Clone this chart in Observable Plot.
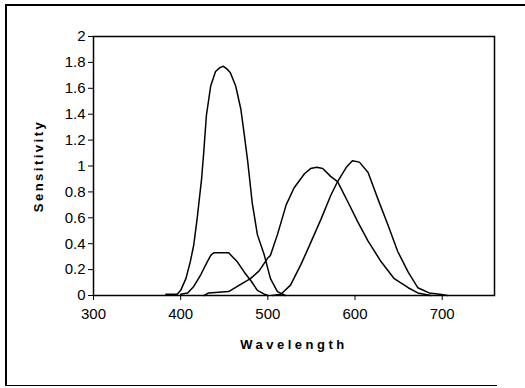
<!DOCTYPE html>
<html>
<head>
<meta charset="utf-8">
<script src="https://cdn.jsdelivr.net/npm/d3@7"></script>
<script src="https://cdn.jsdelivr.net/npm/@observablehq/plot@0.6"></script>
<style>
  html, body { margin: 0; padding: 0; background: #fff; overflow: hidden; }
  #wrap { position: relative; width: 525px; height: 388px; overflow: hidden; }
  .edge { position: absolute; background: #000; pointer-events: none; }
</style>
</head>
<body>
<div id="wrap">
  <div class="edge" style="left:5px; top:4px; width:520px; height:1.6px;"></div>
  <div class="edge" style="left:5px; top:4px; width:1.6px; height:382px;"></div>
  <div class="edge" style="left:5px; top:384.5px; width:492px; height:1.6px;"></div>
</div>
<script>
// Series A (tall short-wavelength curve)
const aWave = [383, 396, 400, 406, 411, 415, 419, 421, 424, 426.5, 429.5, 434.5, 440, 445, 449, 453, 457, 463, 469, 473, 477, 482, 488, 496, 503, 511, 520];
const aVals = [0.01, 0.01, 0.04, 0.13, 0.26, 0.39, 0.60, 0.72, 0.90, 1.11, 1.39, 1.62, 1.73, 1.76, 1.77, 1.75, 1.72, 1.62, 1.44, 1.24, 1.03, 0.72, 0.47, 0.31, 0.13, 0.03, 0.0];
// Series B (small curve)
const bWave = [400, 408, 415, 423, 429, 434.5, 438, 446, 455, 465, 473, 481, 488, 496, 500];
const bVals = [0.01, 0.02, 0.07, 0.16, 0.24, 0.31, 0.33, 0.33, 0.33, 0.26, 0.18, 0.11, 0.04, 0.01, 0.0];
// Series C (middle-wavelength curve)
const cWave = [427, 432, 455, 465, 480, 490, 500, 503, 511, 521, 530, 542, 549, 556, 563, 572, 580, 592, 603, 615, 630, 645, 661, 672, 687];
const cVals = [0.0, 0.02, 0.03, 0.07, 0.13, 0.19, 0.29, 0.31, 0.47, 0.70, 0.83, 0.94, 0.98, 0.99, 0.98, 0.92, 0.88, 0.72, 0.57, 0.42, 0.26, 0.13, 0.06, 0.02, 0.0];
// Series D (long-wavelength curve)
const dWave = [505, 515, 526, 538, 546, 561, 572, 580, 590, 597, 605, 615, 626, 638, 649, 661, 672, 685, 697, 706];
const dVals = [0.0, 0.01, 0.08, 0.24, 0.36, 0.59, 0.77, 0.88, 0.99, 1.04, 1.03, 0.95, 0.75, 0.54, 0.34, 0.18, 0.06, 0.02, 0.01, 0.0];

const xTicks = [300, 400, 500, 600, 700];
const yTicks = [0, 0.2, 0.4, 0.6, 0.8, 1, 1.2, 1.4, 1.6, 1.8, 2];
const xLabel = "Wavelength";
const yLabel = "Sensitivity";

const toRows = (name, w, v) => w.map((x, i) => ({series: name, wave: x, value: v[i]}));
const rows = [
  ...toRows("A", aWave, aVals),
  ...toRows("B", bWave, bVals),
  ...toRows("C", cWave, cVals),
  ...toRows("D", dWave, dVals)
];

const chart = Plot.plot({
  width: 525,
  height: 388,
  marginLeft: 93,
  marginRight: 31,
  marginTop: 36,
  marginBottom: 93,
  style: {fontFamily: "'Liberation Sans', Arial, sans-serif", fontSize: "15px", color: "#000", background: "transparent"},
  x: {domain: [300, 760]},
  y: {domain: [0, 2]},
  marks: [
    Plot.frame({stroke: "#000", strokeWidth: 1.5}),
    Plot.axisX({ticks: xTicks, tickSize: 5, tickPadding: 8, label: null, tickFormat: d => String(d), fontSize: 15}),
    Plot.axisY({ticks: yTicks, tickSize: 5, tickPadding: 3, label: null, tickFormat: d => String(d), fontSize: 15}),
    Plot.line(rows, {x: "wave", y: "value", z: "series", stroke: "#000", strokeWidth: 1.5, curve: "linear"}),
    Plot.text([xLabel], {frameAnchor: "bottom", dy: 53, fontWeight: "bold", fontSize: 13, fill: "#000"}),
    Plot.text([yLabel], {frameAnchor: "left", textAnchor: "middle", dx: -55, rotate: -90, fontWeight: 900, fontSize: 13, fill: "#000"})
  ]
});
document.getElementById("wrap").appendChild(chart);
d3.select(chart).selectAll("text").filter(function() { return this.textContent === xLabel; }).style("letter-spacing", "3.5px");
d3.select(chart).selectAll("text").filter(function() { return this.textContent === yLabel; }).style("letter-spacing", "2.5px");
d3.select(chart).style("position", "absolute").style("left", "0").style("top", "0");
</script>
</body>
</html>
